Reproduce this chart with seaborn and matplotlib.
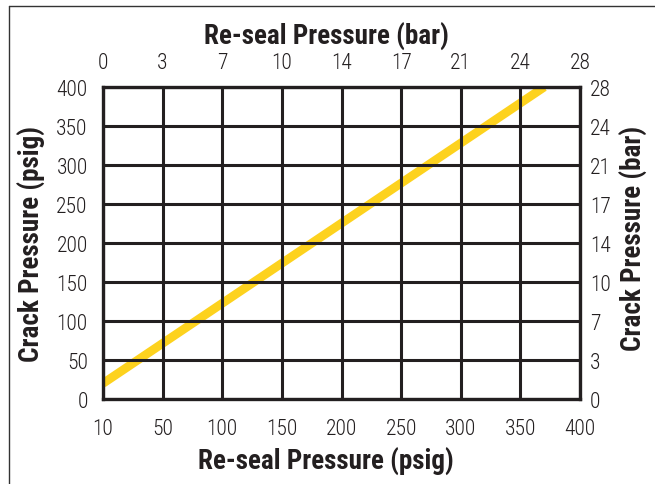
import numpy as np
import pandas as pd
import seaborn as sns
import matplotlib
matplotlib.use('Agg')
import matplotlib.pyplot as plt
from matplotlib import font_manager
from matplotlib.lines import Line2D

# 數據
reseal_psig_ticks = [10, 50, 100, 150, 200, 250, 300, 350, 400]
reseal_bar_ticks = [0, 3, 7, 10, 14, 17, 21, 24, 28]
crack_psig_ticks = [0, 50, 100, 150, 200, 250, 300, 350, 400]
crack_bar_ticks = [0, 3, 7, 10, 14, 17, 21, 24, 28]

reseal_psig = [10, 370]
crack_psig = [20, 400]

sns.set_style('white')


def weights(name):
    return {f.weight for f in font_manager.fontManager.ttflist if f.name == name and '[' not in f.fname}


narrow = 'DejaVu Sans'
for cand in ['Roboto Condensed', 'IBM Plex Sans Condensed', 'Fira Sans Condensed', 'Barlow Condensed']:
    if {400, 700} <= weights(cand):
        narrow = cand
        break
tick_w = 300 if 300 in weights(narrow) else 'normal'
plt.rcParams['font.family'] = [narrow, 'DejaVu Sans']

ink = '#231f20'
gold = '#fdd21e'
lab = dict(fontsize=19.5, fontweight='bold', color=ink)

# 橫軸刻度間距相同 (10 和 50 之間也一樣)
pos = [0, 50, 100, 150, 200, 250, 300, 350, 400]
def fwd(x):
    return np.interp(x, reseal_psig_ticks, pos)
def inv(x):
    return np.interp(x, pos, reseal_psig_ticks)

fig = plt.figure(figsize=(6.55, 4.85), dpi=100)
ax = fig.add_axes([103 / 655, 1 - 400 / 485, 477 / 655, 312 / 485])

df = pd.DataFrame({'reseal': reseal_psig, 'crack': crack_psig})
sns.lineplot(data=df, x='reseal', y='crack', ax=ax, color=gold,
             linewidth=6.3, solid_capstyle='butt', zorder=1)

ax.set_xscale('function', functions=(fwd, inv))
ax.set_xlim(10, 400)
ax.set_ylim(0, 400)
ax.set_xticks(reseal_psig_ticks)
ax.set_xticklabels([str(v) for v in reseal_psig_ticks], fontweight=tick_w)
ax.set_yticks(crack_psig_ticks)
ax.set_yticklabels([str(v) for v in crack_psig_ticks], fontweight=tick_w)
ax.xaxis.set_minor_locator(plt.NullLocator())
ax.grid(True, color=ink, linewidth=2.2, zorder=0)
ax.set_axisbelow(False)
for s in ax.spines.values():
    s.set_color(ink)
    s.set_linewidth(2.4)
ax.tick_params(axis='x', length=0, pad=14, labelsize=15.5, colors=ink)
ax.tick_params(axis='y', length=0, pad=11, labelsize=15.5, colors=ink)
ax.set_xlabel('Re-seal Pressure (psig)', **lab)
ax.set_ylabel('Crack Pressure (psig)', **lab)
xc = (326 - 103) / 477
ax.xaxis.set_label_coords(xc, -(462 - 400) / 312, transform=ax.transAxes)
ax.yaxis.set_label_coords(-(103 - 32) / 477, 0.5, transform=ax.transAxes)
ax.xaxis.label.set_va('center')
ax.yaxis.label.set_va('center')

# 上方 bar 軸
top = ax.twiny()
top.set_xlim(0, 400)
top.set_xticks(pos)
top.set_xticklabels([str(v) for v in reseal_bar_ticks], fontweight=tick_w)
top.tick_params(axis='x', length=0, pad=10, labelsize=15.5, colors=ink)
top.set_xlabel('Re-seal Pressure (bar)', **lab)
top.xaxis.set_label_coords(xc, 1 + (88 - 37) / 312, transform=top.transAxes)
top.xaxis.label.set_va('center')

# 右方 bar 軸
right = ax.twinx()
right.set_ylim(0, 400)
right.set_yticks(crack_psig_ticks)
right.set_yticklabels([str(v) for v in crack_bar_ticks], fontweight=tick_w)
right.tick_params(axis='y', length=0, pad=7, labelsize=15.5, colors=ink)
right.set_ylabel('Crack Pressure (bar)', **lab)
right.yaxis.set_label_coords(1 + (634 - 580) / 477, (400 - 238) / 312, transform=right.transAxes)
right.yaxis.label.set_va('center')
for a in (top, right):
    a.grid(False)
    for s in a.spines.values():
        s.set_visible(False)

# 外框 (只看得到上、左兩邊)
fig.add_artist(Line2D([9 / 655, 1], [1 - 7 / 485, 1 - 7 / 485], color='#333333', linewidth=1))
fig.add_artist(Line2D([9 / 655, 9 / 655], [0, 1 - 7 / 485], color='#333333', linewidth=1))

fig.savefig('out.png', dpi=100)
